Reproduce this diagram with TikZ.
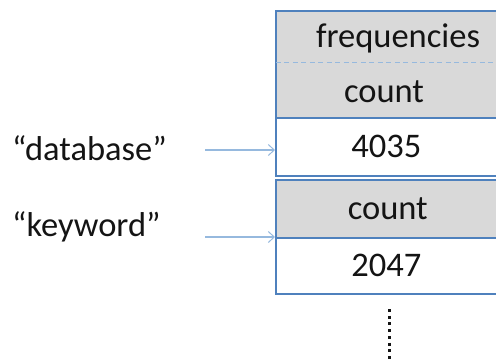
\documentclass[tikz,border=0pt]{standalone}
\usepackage{fontspec}
\setmainfont{Carlito}
\usetikzlibrary{arrows.meta}
\definecolor{boxblue}{RGB}{79,129,189}
\definecolor{lineblue}{RGB}{150,185,222}
\definecolor{cellgray}{RGB}{217,217,217}
\definecolor{txt}{RGB}{20,20,20}
\tikzset{
  bigfont/.style={font=\fontsize{34.5}{38}\selectfont},
  cell/.style={draw=boxblue, line width=1.6pt, minimum width=224pt, inner sep=0pt, anchor=north west, text=txt, bigfont},
  graycell/.style={cell, fill=cellgray},
  whitecell/.style={cell, fill=white},
  lbl/.style={anchor=west, inner sep=0pt, text=txt, bigfont},
  ptr/.style={draw=lineblue, line width=1.1pt, -{Straight Barb[length=6pt,width=11pt,line width=1pt]}},
}
\begin{document}
\begin{tikzpicture}[x=1pt,y=-1pt]
\useasboundingbox (0,0) rectangle (496,360);
\clip (0,0) rectangle (496,360);
% first group
\node[graycell, minimum height=107pt] (g1) at (275,10) {};
\node[txt, bigfont] (freq) at (398,38) {frequencies};
\node[txt, bigfont] (cnt1) at (384,92) {count};
\node[whitecell, minimum height=58pt] (val1) at (275,117) {\hspace*{-3pt}4035};
\coordinate (dl) at (275.8,62);
\coordinate (dr) at (496,62);
\draw[lineblue, line width=1pt, dash pattern=on 5pt off 3.5pt] (dl) -- (dr);
% second group
\node[graycell, minimum height=58pt] (cnt2) at (275,179) {count};
\node[whitecell, minimum height=56pt] (val2) at (275,237) {\hspace*{-3pt}2047};
% labels and pointers
\node[lbl] (db) at (12,148) {“database”};
\node[lbl] (kw) at (12,227) {“keyword”};
\coordinate (s1) at (205,150);
\coordinate (s2) at (205,237);
\draw[ptr] (s1) -- (s1 -| val1.west);
\draw[ptr] (s2) -- (s2 -| val2.west);
% continuation dots
\coordinate (d1) at (389,309);
\coordinate (d2) at (389,360);
\draw[txt, line width=3pt, dash pattern=on 3pt off 3.7pt] (d1) -- (d2);
\end{tikzpicture}
\end{document}
